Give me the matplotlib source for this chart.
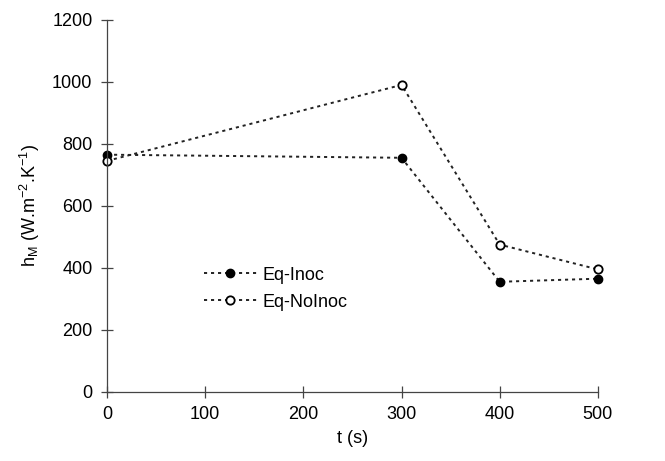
import matplotlib
matplotlib.use("Agg")
import matplotlib.pyplot as plt

plt.rcParams['font.family'] = ['Liberation Sans', 'DejaVu Sans']

# time points (s) and heat transfer coefficient values
t = [0, 300, 400, 500]
h_inoc = [765, 755, 355, 365]
h_noinoc = [745, 990, 475, 395]

x_ticks = [0, 100, 200, 300, 400, 500]
y_ticks = [0, 200, 400, 600, 800, 1000, 1200]

fig = plt.figure(figsize=(6.65, 4.61), dpi=100)
ax = fig.add_axes([0.161, 0.150, 0.738, 0.807])

dots = (0, (1.6, 2.0))
ax.plot(t, h_inoc, linestyle=dots, color='#222222', lw=1.4,
        marker='o', markersize=6, markerfacecolor='black',
        markeredgecolor='black', label='Eq-Inoc', clip_on=False)
ax.plot(t, h_noinoc, linestyle=dots, color='#222222', lw=1.4,
        marker='o', markersize=6, markerfacecolor='white',
        markeredgecolor='black', markeredgewidth=1.3,
        label='Eq-NoInoc', clip_on=False)

ax.set_xlim(0, 500)
ax.set_ylim(0, 1200)
ax.set_xticks(x_ticks)
ax.set_yticks(y_ticks)

for s in ['top', 'right']:
    ax.spines[s].set_visible(False)
for s in ['left', 'bottom']:
    ax.spines[s].set_color('#444444')
    ax.spines[s].set_linewidth(0.9)

ax.tick_params(direction='inout', length=9, width=0.9, color='#444444',
               labelsize=13, pad=6)

ax.set_xlabel('t (s)', fontsize=13, labelpad=5)
ax.set_ylabel(r'h$_{\mathregular{M}}$ (W.m$^{\mathregular{-2}}$.K$^{\mathregular{-1}}$)',
              fontsize=13, labelpad=7)

ax.legend(loc='upper left', bbox_to_anchor=(0.165, 0.38), frameon=False,
          fontsize=13, handlelength=2.9, handletextpad=0.35,
          labelspacing=0.55)

fig.savefig('out.png', dpi=100)
